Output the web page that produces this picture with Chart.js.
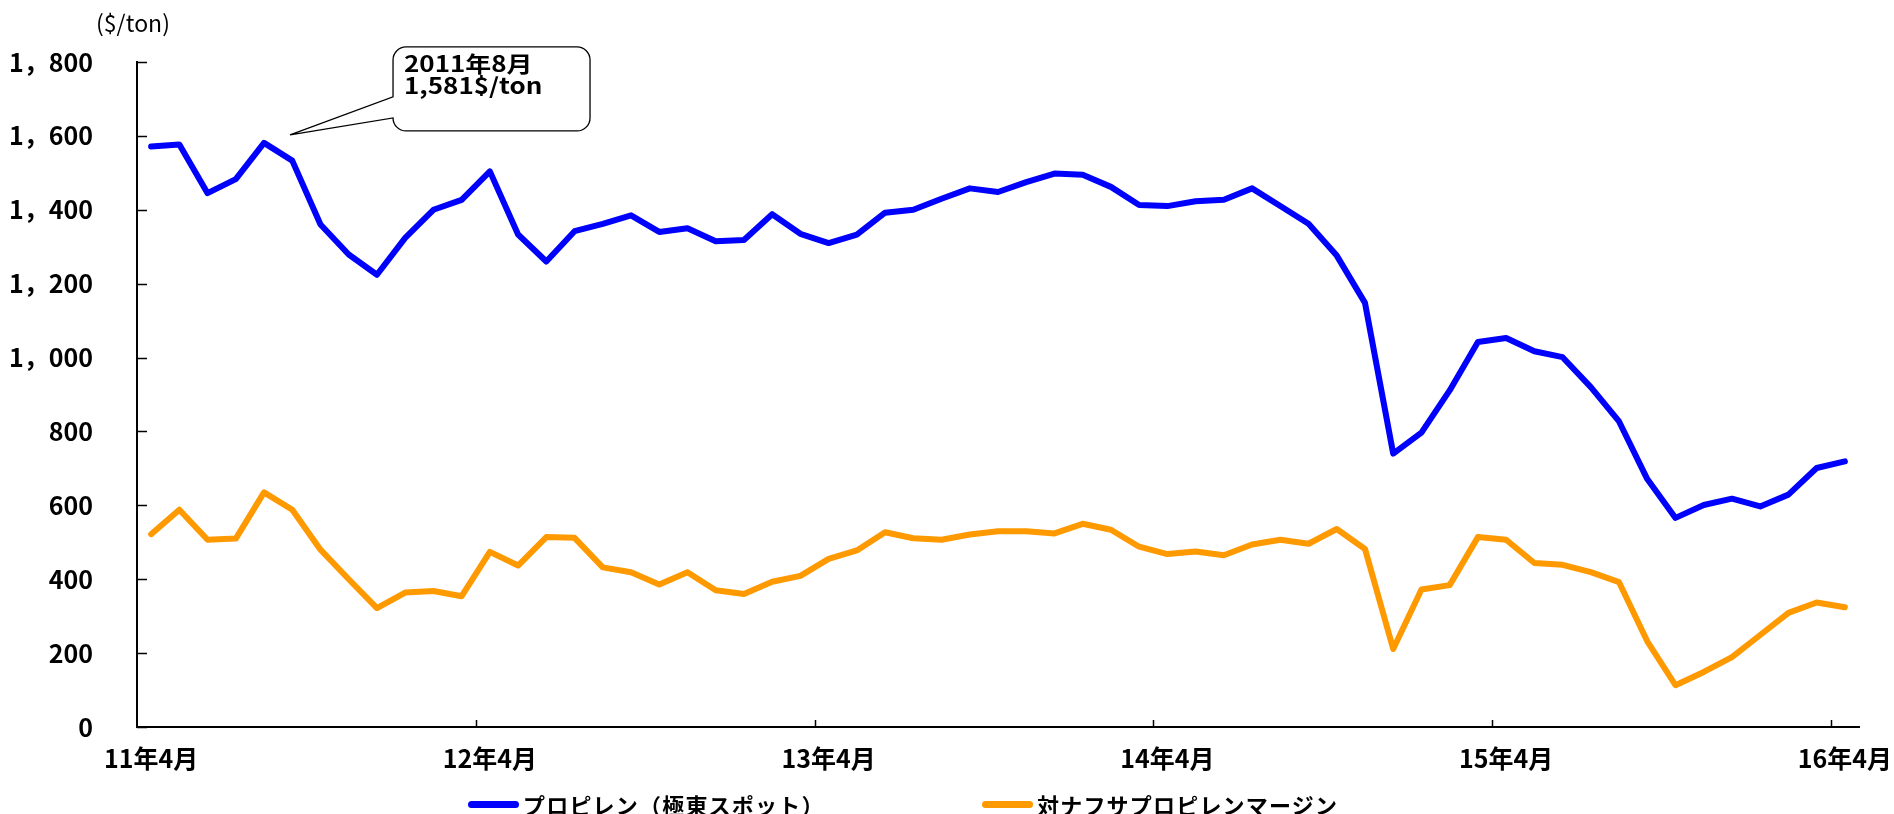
<!DOCTYPE html>
<html lang="ja">
<head>
<meta charset="utf-8">
<title>プロピレン価格とマージン</title>
<script src="https://cdn.jsdelivr.net/npm/chart.js@4.4.1/dist/chart.umd.min.js"></script>
<style>
  html, body { margin: 0; padding: 0; background: #fff; overflow: hidden; }
  #wrap { position: relative; width: 1894px; height: 814px; }
  #legend .item {
    position: absolute; top: 793px; display: flex; align-items: center;
    font: bold 22px "Noto Sans CJK JP", sans-serif; line-height: 22px; letter-spacing: 1.2px;
    color: #000; white-space: nowrap;
  }
  #legend .item i { display: inline-block; width: 51px; height: 7px; border-radius: 4px; margin-right: 4px; }
</style>
</head>
<body>
<div id="wrap">
  <canvas id="chart" width="1894" height="814"></canvas>
  <div id="legend"></div>
</div>
<script>
// --- data ($/ton, 2011/4 - 2016/4) ---
const months = [
  '11年4月','11年5月','11年6月','11年7月','11年8月','11年9月','11年10月','11年11月','11年12月','12年1月','12年2月','12年3月',
  '12年4月','12年5月','12年6月','12年7月','12年8月','12年9月','12年10月','12年11月','12年12月','13年1月','13年2月','13年3月',
  '13年4月','13年5月','13年6月','13年7月','13年8月','13年9月','13年10月','13年11月','13年12月','14年1月','14年2月','14年3月',
  '14年4月','14年5月','14年6月','14年7月','14年8月','14年9月','14年10月','14年11月','14年12月','15年1月','15年2月','15年3月',
  '15年4月','15年5月','15年6月','15年7月','15年8月','15年9月','15年10月','15年11月','15年12月','16年1月','16年2月','16年3月',
  '16年4月'
];

const propyleneSpot = [
  1571, 1577, 1445, 1483, 1581, 1533, 1360, 1279, 1224, 1324, 1400, 1427,
  1504, 1333, 1260, 1342, 1362, 1385, 1340, 1350, 1315, 1318, 1388, 1335,
  1310, 1333, 1392, 1400, 1430, 1458, 1448, 1475, 1498, 1495, 1462, 1413,
  1410, 1423, 1427, 1458, 1410, 1362, 1276, 1148, 740, 797, 911, 1042,
  1053, 1017, 1001, 920, 827, 671, 566, 601, 618, 597, 629, 701,
  719
];

const naphthaMargin = [
  522, 588, 507, 510, 635, 588, 480, 400, 322, 364, 368, 354,
  474, 437, 514, 512, 432, 419, 386, 419, 370, 360, 393, 409,
  455, 478, 527, 511, 507, 521, 530, 530, 524, 550, 534, 488,
  468, 475, 465, 494, 507, 496, 536, 482, 211, 372, 384, 514,
  507, 444, 439, 419, 392, 232, 113, 149, 189, 249, 309, 337,
  324
];

const seriesNames = ['プロピレン（極東スポット）', '対ナフサプロピレンマージン'];
const seriesColors = ['#0000ff', '#ff9900'];

const yTicks = [0, 200, 400, 600, 800, 1000, 1200, 1400, 1600, 1800];
const labelEvery = 12;           // one label per April
const peakIndex = 4;             // 2011年8月
const calloutLines = ['2011年8月', '1,581$/ton'];
const unitLabel = '($/ton)';

// --- small plugin: inward tick marks, unit label, callout ---
const decorations = {
  id: 'decorations',
  beforeDatasetsDraw(chart) {
    const { ctx, chartArea: a, scales: { x, y } } = chart;
    ctx.save();
    ctx.strokeStyle = '#000';
    ctx.lineWidth = 1.5;
    ctx.beginPath();
    yTicks.forEach(v => {
      const py = Math.round(y.getPixelForValue(v)) + 0.5;
      ctx.moveTo(a.left, py);
      ctx.lineTo(a.left + 10, py);
    });
    for (let i = labelEvery; i < months.length; i += labelEvery) {
      const px = Math.round((x.getPixelForValue(i - 1) + x.getPixelForValue(i)) / 2) + 0.5;
      ctx.moveTo(px, a.bottom);
      ctx.lineTo(px, a.bottom - 7);
    }
    ctx.stroke();
    ctx.restore();
  },
  afterDraw(chart) {
    const { ctx, chartArea: a, scales: { x, y } } = chart;
    ctx.save();

    // unit
    ctx.fillStyle = '#000';
    ctx.font = '23px "Noto Sans CJK JP", sans-serif';
    ctx.textAlign = 'center';
    ctx.textBaseline = 'middle';
    ctx.fillText(unitLabel, a.left - 4, a.top - 39);

    // callout for the peak
    const px = x.getPixelForValue(peakIndex);
    const py = y.getPixelForValue(propyleneSpot[peakIndex]);
    const tipX = px + 26, tipY = py - 8;
    const L = px + 129, R = px + 326, T = py - 96, B = py - 12, r = 13;
    ctx.beginPath();
    ctx.moveTo(L + r, T);
    ctx.lineTo(R - r, T);
    ctx.arcTo(R, T, R, T + r, r);
    ctx.lineTo(R, B - r);
    ctx.arcTo(R, B, R - r, B, r);
    ctx.lineTo(L + r, B);
    ctx.arcTo(L, B, L, B - r, r);
    ctx.lineTo(L, py - 25);
    ctx.lineTo(tipX, tipY);
    ctx.lineTo(L, py - 46);
    ctx.lineTo(L, T + r);
    ctx.arcTo(L, T, L + r, T, r);
    ctx.closePath();
    ctx.fillStyle = '#fff';
    ctx.fill();
    ctx.strokeStyle = '#000';
    ctx.lineWidth = 1.3;
    ctx.stroke();

    ctx.fillStyle = '#000';
    ctx.textAlign = 'left';
    ctx.font = 'bold 22px "Noto Sans CJK JP", sans-serif';
    calloutLines.forEach((t, k) => {
      ctx.save();
      ctx.translate(L + 11, py - 79 + k * 22);
      ctx.scale(1.18, 1);
      ctx.fillText(t, 0, 0);
      ctx.restore();
    });
    ctx.restore();
  }
};

// y labels like "1，800"
function fmtYen(v) {
  if (v < 1000) return String(v);
  const s = String(v);
  return s.slice(0, s.length - 3) + '，' + s.slice(-3);
}

const tickFont = { family: '"Noto Sans CJK JP", sans-serif', size: 25, weight: 'bold' };

new Chart(document.getElementById('chart').getContext('2d'), {
  type: 'line',
  data: {
    labels: months,
    datasets: [
      {
        label: seriesNames[0],
        data: propyleneSpot,
        borderColor: seriesColors[0], backgroundColor: seriesColors[0],
        borderWidth: 6, pointRadius: 0, tension: 0,
        borderJoinStyle: 'round', borderCapStyle: 'round'
      },
      {
        label: seriesNames[1],
        data: naphthaMargin,
        borderColor: seriesColors[1], backgroundColor: seriesColors[1],
        borderWidth: 6, pointRadius: 0, tension: 0,
        borderJoinStyle: 'round', borderCapStyle: 'round'
      }
    ]
  },
  options: {
    responsive: false,
    animation: false,
    layout: { padding: { top: 62, right: 35, bottom: 0, left: 0 } },
    plugins: { legend: { display: false }, tooltip: { enabled: false } },
    scales: {
      x: {
        offset: true,
        grid: { display: false, drawTicks: false },
        border: { display: true, color: '#000', width: 2 },
        ticks: {
          autoSkip: false, maxRotation: 0, padding: 16, color: '#000', font: tickFont,
          callback: (v, i) => (i % labelEvery === 0 ? months[i] : null)
        },
        afterFit: s => { s.height = 87; s.paddingLeft = 0; s.paddingRight = 0; }
      },
      y: {
        min: 0, max: 1800,
        grid: { display: false, drawTicks: false },
        border: { display: true, color: '#000', width: 2 },
        ticks: { stepSize: 200, padding: 44, color: '#000', font: tickFont, callback: v => fmtYen(v) },
        afterFit: s => { s.width = 137; }
      }
    }
  },
  plugins: [decorations]
});

// legend under the axis
const legendLeft = [468, 982];
const legend = document.getElementById('legend');
seriesNames.forEach((name, k) => {
  const item = document.createElement('span');
  item.className = 'item';
  item.style.left = legendLeft[k] + 'px';
  const swatch = document.createElement('i');
  swatch.style.background = seriesColors[k];
  item.appendChild(swatch);
  item.appendChild(document.createTextNode(name));
  legend.appendChild(item);
});
</script>
</body>
</html>
